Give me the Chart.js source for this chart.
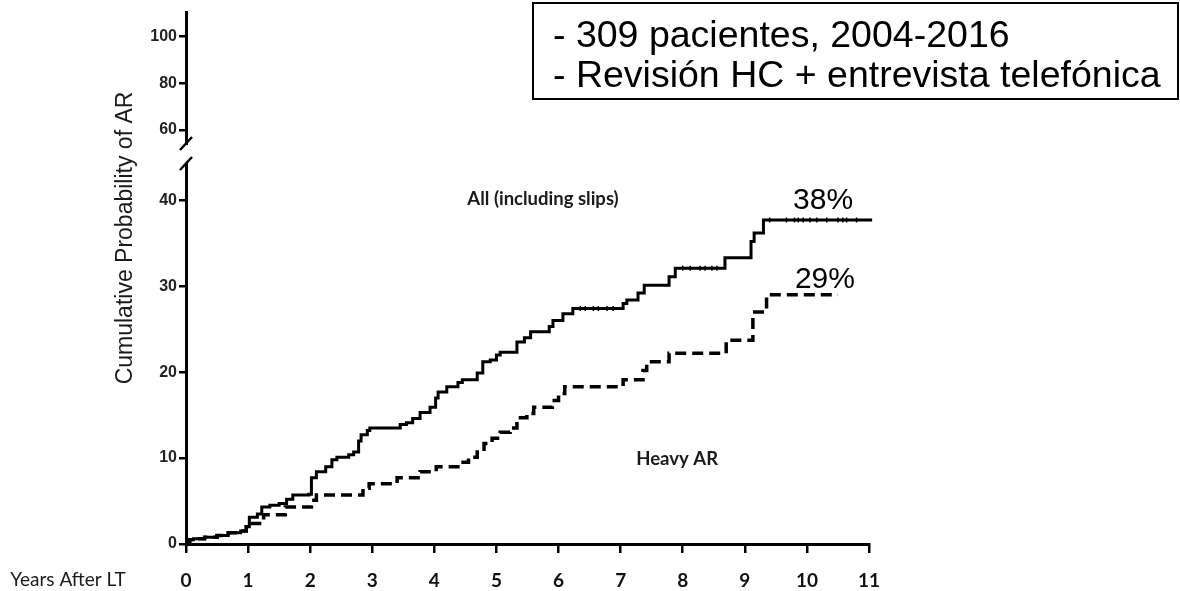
<!DOCTYPE html>
<html>
<head>
<meta charset="utf-8">
<script src="https://cdn.jsdelivr.net/npm/chart.js@4"></script>
<style>
  html, body { margin: 0; padding: 0; background: #fff; }
  #wrap { width: 1180px; height: 591px; position: relative; }
</style>
</head>
<body>
<div id="wrap"><canvas id="myChart"></canvas></div>
<script>
// All AR (including slips) - step points: time (years) and cumulative %
const allTimes  = [0, 0.02, 0.06, 0.12, 0.3, 0.5, 0.68, 0.88, 0.97, 1.02, 1.15, 1.22, 1.35, 1.5, 1.62, 1.72, 1.98,
                   2.02, 2.1, 2.25, 2.35, 2.43, 2.62, 2.7, 2.78, 2.82, 2.92, 2.96, 3.45, 3.55, 3.65, 3.77, 3.93,
                   4.02, 4.06, 4.2, 4.38, 4.45, 4.69, 4.78, 4.9, 5.0, 5.06, 5.33, 5.45, 5.55, 5.85, 5.91, 6.07,
                   6.23, 7.04, 7.1, 7.28, 7.38, 7.78, 7.88, 8.68, 9.1, 9.15, 9.3, 11.05];
const allValues = [0, 0.3, 0.5, 0.6, 0.8, 1.0, 1.3, 1.5, 2.0, 3.1, 3.5, 4.3, 4.5, 4.7, 5.2, 5.7, 5.8,
                   7.7, 8.4, 9.0, 9.8, 10.1, 10.4, 10.7, 12.0, 12.7, 13.2, 13.5, 13.9, 14.1, 14.6, 15.3, 15.9,
                   17.0, 17.7, 18.3, 18.8, 19.1, 19.9, 21.2, 21.4, 22.0, 22.3, 23.5, 24.0, 24.7, 25.3, 26.0, 26.8,
                   27.4, 28.0, 28.4, 29.2, 30.1, 31.1, 32.1, 33.3, 35.2, 36.2, 37.7, 37.7];

// Heavy AR
const heavyTimes  = [0, 0.02, 0.06, 0.12, 0.3, 0.5, 0.68, 0.88, 0.97, 1.02, 1.25, 1.6, 2.02, 2.1, 2.85, 2.95,
                     3.4, 3.77, 4.03, 4.41, 4.55, 4.69, 4.8, 4.93, 5.06, 5.22, 5.33, 5.49, 5.6, 5.9, 6.0, 6.1,
                     7.04, 7.36, 7.42, 7.78, 8.7, 9.13, 9.35, 10.5];
const heavyValues = [0, 0.3, 0.5, 0.6, 0.8, 1.0, 1.3, 1.5, 2.0, 2.4, 3.4, 4.3, 5.1, 5.7, 6.5, 7.0,
                     7.7, 8.4, 9.0, 9.5, 10.1, 10.7, 11.7, 12.3, 13.0, 13.5, 14.7, 15.2, 15.9, 16.7, 17.5, 18.3,
                     19.1, 20.2, 21.2, 22.2, 23.7, 27.0, 29.0, 29.0];

// censored observations on the "All" curve
const censorTimes  = [6.35, 6.43, 6.56, 6.64, 6.78, 6.88, 8.0, 8.12, 8.28, 8.36, 8.47, 8.55,
                      9.4, 9.67, 9.8, 9.86, 9.94, 10.05, 10.16, 10.32, 10.5, 10.58, 10.64, 10.8];
const censorValues = [27.4, 27.4, 27.4, 27.4, 27.4, 27.4, 32.1, 32.1, 32.1, 32.1, 32.1, 32.1,
                      37.7, 37.7, 37.7, 37.7, 37.7, 37.7, 37.7, 37.7, 37.7, 37.7, 37.7, 37.7];

const xTicks = [0, 1, 2, 3, 4, 5, 6, 7, 8, 9, 10, 11];
const yLowTicks = [0, 10, 20, 30, 40];
const yHighTicks = [60, 80, 100];

const toPoints = (ts, vs) => ts.map((t, i) => ({ x: t, y: vs[i] }));

const tickFont = { family: 'Liberation Sans, Arial, sans-serif', size: 16, weight: 'bold' };

// axis break, free text and info box
const extras = {
  id: 'extras',
  afterDraw(chart) {
    const ctx = chart.ctx;
    const xs = chart.scales.x;
    const ys = chart.scales.y;
    const ax = xs.left;
    const yb = ys.top;
    ctx.save();

    // break marks on the y axis
    ctx.fillStyle = '#fff';
    ctx.fillRect(ax - 5, yb - 8, 10, 18);
    ctx.strokeStyle = '#000';
    ctx.lineWidth = 2.5;
    ctx.beginPath();
    ctx.moveTo(ax - 6, yb - 3); ctx.lineTo(ax + 6, yb - 16);
    ctx.moveTo(ax - 6, yb + 17); ctx.lineTo(ax + 6, yb + 4);
    ctx.stroke();

    // y title
    ctx.fillStyle = '#1a1a1a';
    ctx.font = '23px "Liberation Sans", Arial, sans-serif';
    ctx.textAlign = 'center';
    ctx.textBaseline = 'middle';
    ctx.save();
    ctx.translate(126, 238);
    ctx.rotate(-Math.PI / 2);
    ctx.fillText('Cumulative Probability of AR', 0, 0);
    ctx.restore();

    // x title at the left of tick labels
    ctx.font = '19px Lato, "Open Sans", sans-serif';
    ctx.fillText('Years After LT', 68, 580);

    // curve labels
    ctx.font = 'bold 18.5px Lato, "Open Sans", sans-serif';
    ctx.fillText('All (including slips)', xs.getPixelForValue(5.75), ys.getPixelForValue(40.2));
    ctx.fillText('Heavy AR', xs.getPixelForValue(7.91), ys.getPixelForValue(9.9));

    ctx.fillStyle = '#000';
    ctx.font = '30px "Liberation Sans", Arial, sans-serif';
    ctx.fillText('38%', xs.getPixelForValue(10.26), ys.getPixelForValue(39.9));
    ctx.fillText('29%', xs.getPixelForValue(10.29), ys.getPixelForValue(30.8));

    // info box
    ctx.lineWidth = 2;
    ctx.strokeRect(533, 3, 645, 96);
    ctx.textAlign = 'left';
    ctx.font = '37.5px "Liberation Sans", Arial, sans-serif';
    ctx.fillText('- 309 pacientes, 2004-2016', 553, 37);
    ctx.fillText('- Revisión HC + entrevista telefónica', 553, 77);

    ctx.restore();
  }
};

const ctx = document.getElementById('myChart').getContext('2d');
const myChart = new Chart(ctx, {
  type: 'line',
  data: {
    datasets: [{
      label: 'All (including slips)',
      data: toPoints(allTimes, allValues),
      yAxisID: 'y',
      borderColor: '#000',
      borderWidth: 3,
      stepped: true,
      pointRadius: 0,
      fill: false,
      clip: 6
    }, {
      label: 'Heavy AR',
      data: toPoints(heavyTimes, heavyValues),
      yAxisID: 'y',
      borderColor: '#000',
      borderWidth: 3.5,
      borderDash: [11, 6],
      stepped: true,
      pointRadius: 0,
      fill: false,
      clip: 6
    }, {
      label: 'Censored',
      data: toPoints(censorTimes, censorValues),
      yAxisID: 'y',
      showLine: false,
      pointStyle: 'line',
      rotation: 90,
      pointRadius: 2.5,
      pointBorderWidth: 1.5,
      pointBorderColor: '#000',
      clip: 6
    }]
  },
  options: {
    responsive: true,
    maintainAspectRatio: false,
    devicePixelRatio: 1,
    animation: false,
    layout: { padding: { left: 130, right: 311, top: 12, bottom: 0 } },
    plugins: { legend: { display: false }, tooltip: { enabled: false } },
    scales: {
      x: {
        type: 'linear',
        min: 0,
        max: 11,
        afterBuildTicks: s => { s.ticks = xTicks.map(v => ({ value: v })); },
        afterFit: s => { s.height = 47; },
        border: { color: '#000', width: 3 },
        grid: { drawOnChartArea: false, drawTicks: true, tickLength: 9, color: '#000', lineWidth: 2.5 },
        ticks: { color: '#111', padding: 16, font: { family: 'Lato, "Open Sans", sans-serif', size: 19, weight: 'bold' } }
      },
      y: {
        type: 'linear',
        position: 'left',
        stack: 'ax',
        stackWeight: 391,
        min: 0,
        max: 45.5,
        afterBuildTicks: s => { s.ticks = yLowTicks.map(v => ({ value: v })); },
        afterFit: s => { s.width = 56; },
        border: { color: '#000', width: 3 },
        grid: { drawOnChartArea: false, drawTicks: true, tickLength: 7, color: '#000', lineWidth: 2.5 },
        ticks: { color: '#222', padding: 2, font: tickFont }
      },
      yTop: {
        type: 'linear',
        position: 'left',
        stack: 'ax',
        stackWeight: 141,
        min: 50.1,
        max: 110.6,
        afterBuildTicks: s => { s.ticks = yHighTicks.map(v => ({ value: v })); },
        afterFit: s => { s.width = 56; },
        border: { color: '#000', width: 3 },
        grid: { drawOnChartArea: false, drawTicks: true, tickLength: 7, color: '#000', lineWidth: 2.5 },
        ticks: { color: '#222', padding: 2, font: tickFont }
      }
    }
  },
  plugins: [extras]
});
</script>
</body>
</html>
